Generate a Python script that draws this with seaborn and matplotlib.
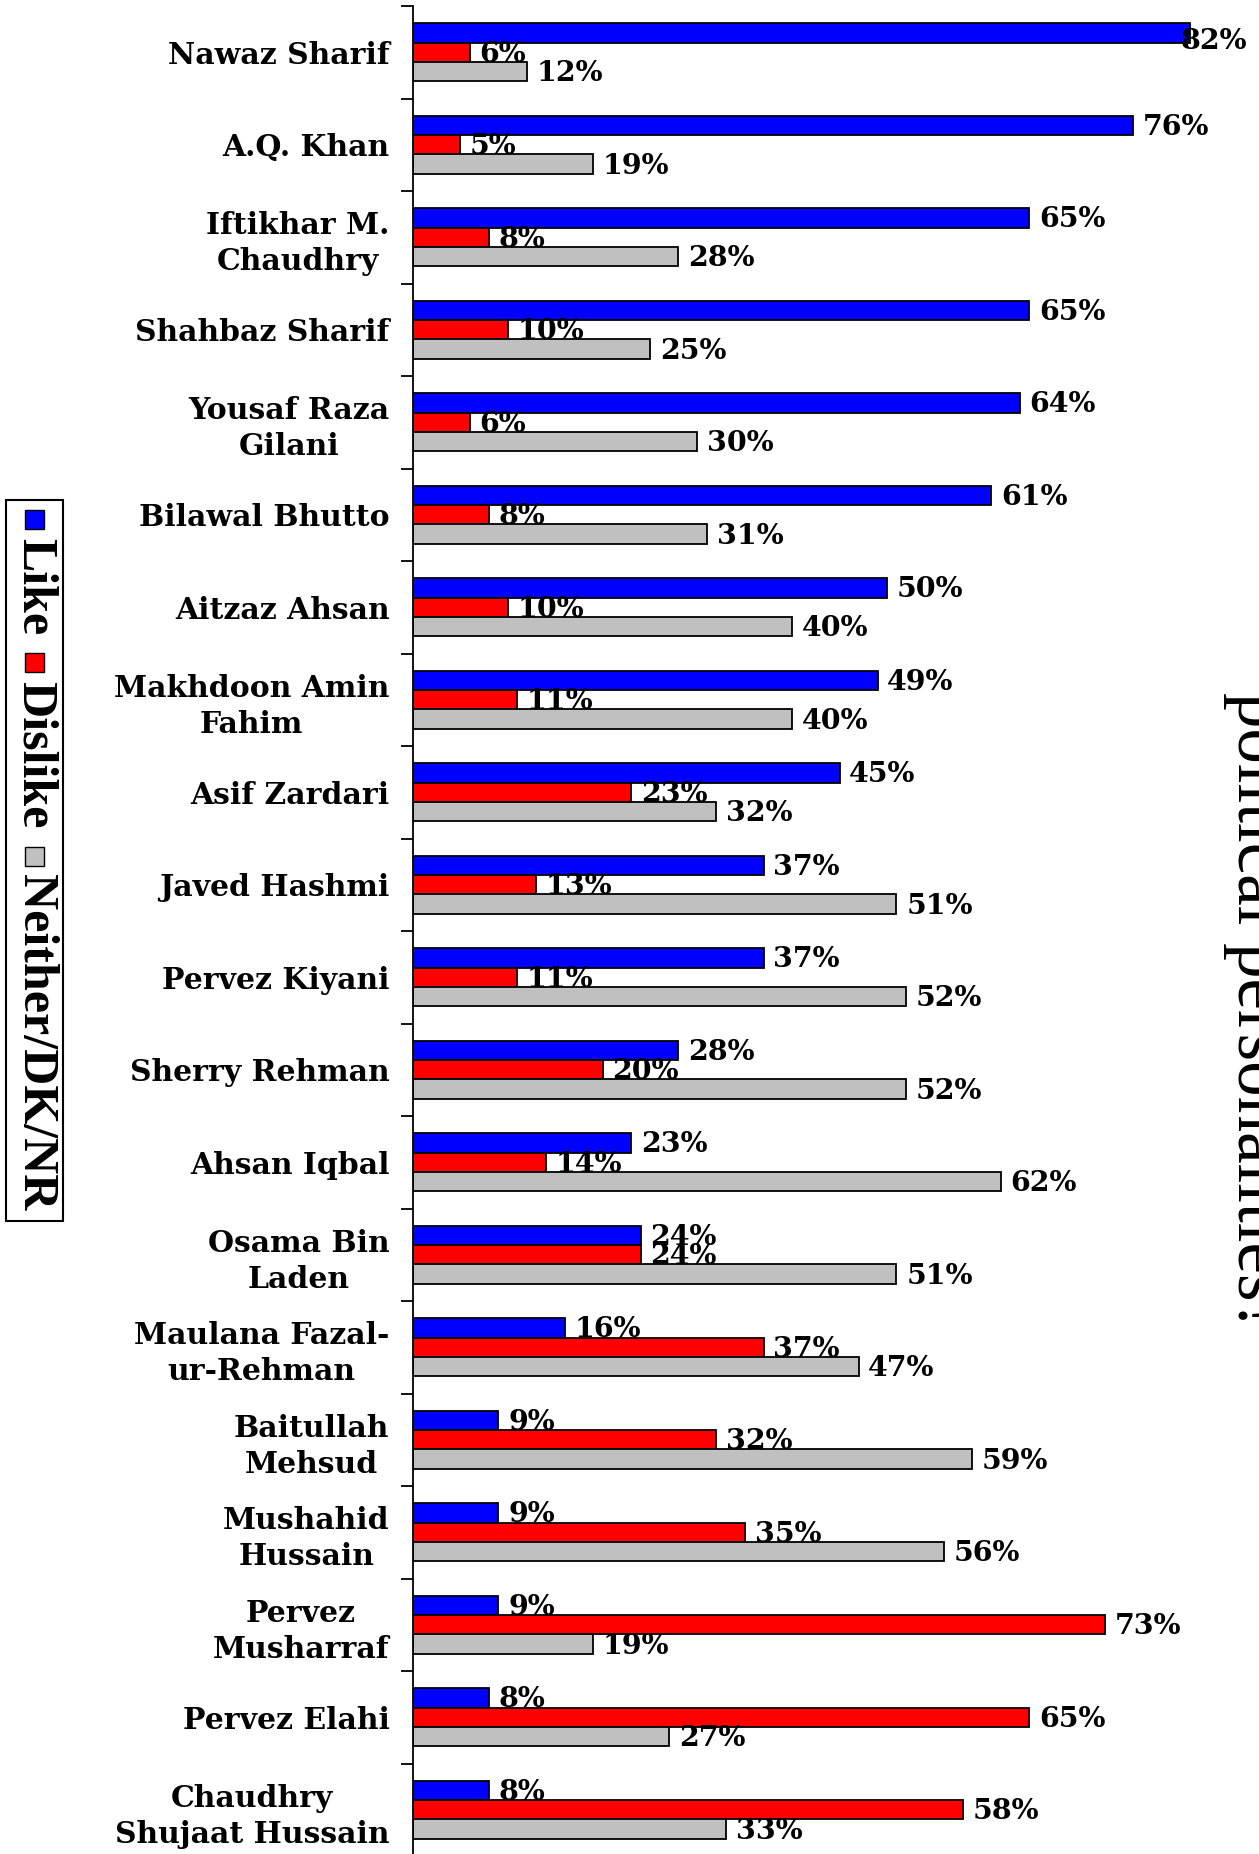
import matplotlib
matplotlib.use("Agg")
import matplotlib.pyplot as plt
from matplotlib.patches import Rectangle
import seaborn as sns
import pandas as pd

names = [
    "Nawaz Sharif", "A.Q. Khan", "Iftikhar M.\nChaudhry", "Shahbaz Sharif",
    "Yousaf Raza\nGilani", "Bilawal Bhutto", "Aitzaz Ahsan",
    "Makhdoon Amin\nFahim", "Asif Zardari", "Javed Hashmi", "Pervez Kiyani",
    "Sherry Rehman", "Ahsan Iqbal", "Osama Bin\nLaden",
    "Maulana Fazal-\nur-Rehman", "Baitullah\nMehsud", "Mushahid\nHussain",
    "Pervez\nMusharraf", "Pervez Elahi", "Chaudhry\nShujaat Hussain",
]
like = [82, 76, 65, 65, 64, 61, 50, 49, 45, 37, 37, 28, 23, 24, 16, 9, 9, 9, 8, 8]
dislike = [6, 5, 8, 10, 6, 8, 10, 11, 23, 13, 11, 20, 14, 24, 37, 32, 35, 73, 65, 58]
neither = [12, 19, 28, 25, 30, 31, 40, 40, 32, 51, 52, 52, 62, 51, 47, 59, 56, 19, 27, 33]
series = ["Like", "Dislike", "Neither/DK/NR"]
colors = ["#0000FF", "#FF0000", "#C0C0C0"]
title_line = "political personalities?"

W, H = 1259, 1854
DPI = 100

df = pd.DataFrame({
    "name": names * 3,
    "value": like + dislike + neither,
    "series": [series[0]] * len(names) + [series[1]] * len(names) + [series[2]] * len(names),
})

sns.set_theme(style="white")
plt.rcParams.update({"text.color": "black", "ytick.color": "black",
                     "ytick.labelcolor": "black", "axes.edgecolor": "black"})
name_font = {"family": "DejaVu Serif", "weight": "bold", "size": 21.5,
             "color": "black"}
value_font = {"family": "DejaVu Serif", "weight": "bold", "size": 20.5,
              "color": "black"}

fig = plt.figure(figsize=(W / DPI, H / DPI), dpi=DPI)
ax = fig.add_axes([413 / W, (H - 1856) / H, (W - 413) / W, 1850 / H])

sns.barplot(data=df, y="name", x="value", hue="series", hue_order=series,
            palette=colors, orient="h", width=0.63, edgecolor="black",
            linewidth=1.3, legend=False, ax=ax, saturation=1)

n = len(names)
ax.set_xlim(0, (W - 413) / 9.48)
ax.set_ylim(n - 0.5, -0.5)
ax.set_xlabel("")
ax.set_ylabel("")

# category boundaries as major ticks, names as minor tick labels at centres
ax.set_yticks([i - 0.5 for i in range(n + 1)])
ax.set_yticklabels([])
ax.set_yticks(range(n), minor=True)
ax.set_yticklabels(names, minor=True, fontdict=name_font)
ax.tick_params(axis="y", which="major", left=True, length=9, width=1.3,
               direction="out", color="black")
ax.tick_params(axis="y", which="minor", left=False, length=0, pad=17)
for t in ax.get_yticklabels(minor=True):
    t.set_multialignment("center")
    t.set_linespacing(1.3)
ax.set_xticks([])

for side in ["top", "right", "bottom"]:
    ax.spines[side].set_visible(False)
ax.spines["left"].set_color("black")
ax.spines["left"].set_linewidth(1.3)

# value labels at the end of each bar
for cont in ax.containers:
    for bar in cont:
        v = bar.get_width()
        dx, dy = (-7, -6) if v >= 80 else (7, -1.5)
        ax.annotate(f"{int(round(v))}%", xy=(v, bar.get_y() + bar.get_height() / 2),
                    xytext=(dx, dy), textcoords="offset points",
                    ha="left", va="center", zorder=5, annotation_clip=False,
                    **value_font)

# right-hand title line, rotated
fig.text(1223 / W, 1 - 1012 / H, title_line, rotation=-90, ha="left",
         va="center", family="Liberation Serif", fontsize=51, color="black")

# vertical legend on the left
fig.patches.append(Rectangle((6 / W, 1 - 1221 / H), 57 / W, 721 / H,
                             transform=fig.transFigure, facecolor="white",
                             edgecolor="black", linewidth=1.5, zorder=1))
fig.canvas.draw()
renderer = fig.canvas.get_renderer()
y_px = 510
xc = 34.5
msize = 19
for name, col in zip(series, colors):
    fig.patches.append(Rectangle(((xc - msize / 2) / W, 1 - (y_px + msize) / H),
                                 msize / W, msize / H, transform=fig.transFigure,
                                 facecolor=col, edgecolor="black", linewidth=1,
                                 zorder=2))
    y_px += msize + 9
    t = fig.text(xc / W, 1 - y_px / H, name, rotation=-90, ha="center", va="top",
                 family="Liberation Serif", weight="bold", fontsize=36,
                 color="black", zorder=3)
    ext = t.get_window_extent(renderer)
    y_px += ext.height + 18

fig.savefig("out.png", dpi=DPI)
